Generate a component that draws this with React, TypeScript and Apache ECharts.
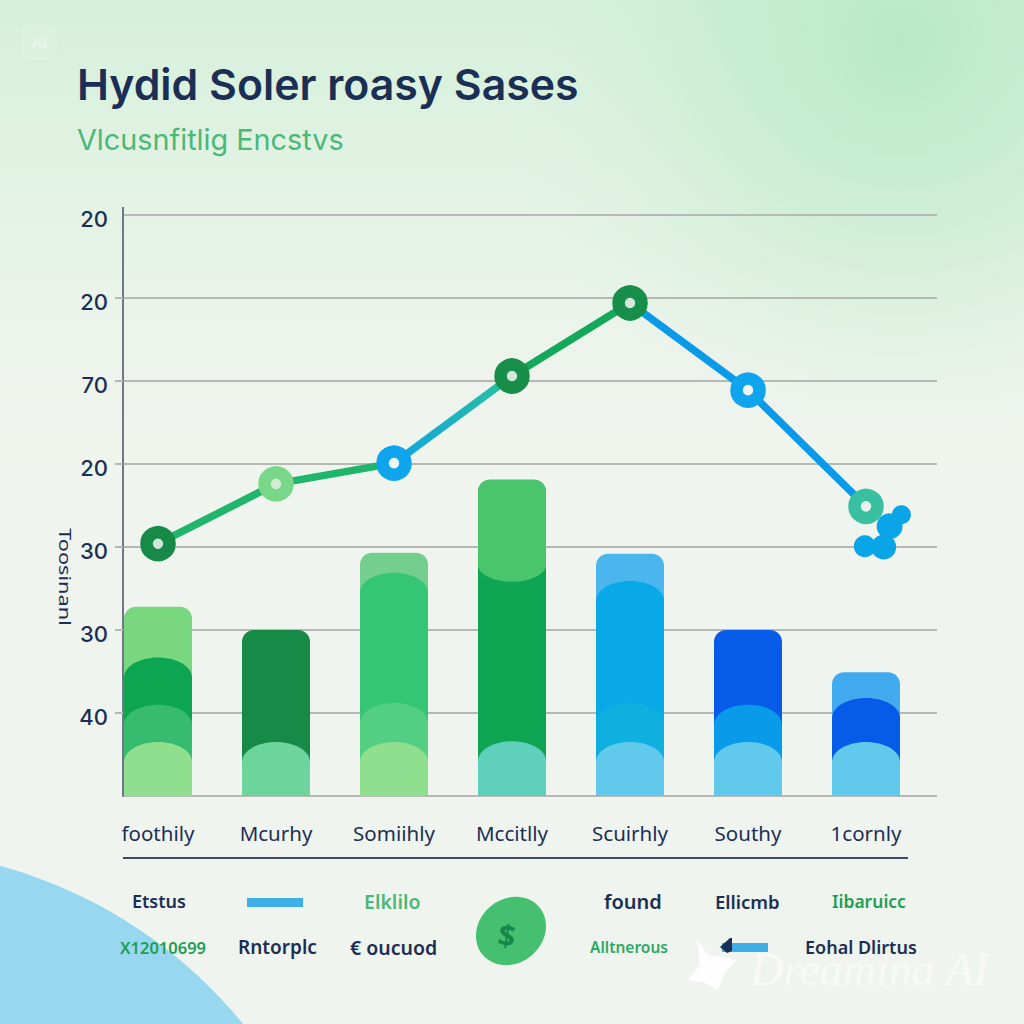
import React, { useEffect, useRef } from "react";
import * as echarts from "echarts";

const titleText = "Hydid Soler roasy Sases";
const subtitleText = "Vlcusnfitlig Encstvs";
const yAxisName = "Toosinanl";
const categories = ["foothily", "Mcurhy", "Somiihly", "Mccitlly", "Scuirhly", "Southy", "1cornly"];
const yTickLabels = ["", "40", "30", "30", "20", "70", "20", "20"];
const tickValues = [1, 2, 3, 4, 5, 6];
const legendLabels = ["Etstus", "Rntorplc", "€ oucuod", "found", "Ellicmb", "Eohal Dlirtus", "Elklilo", "Iibaruicc", "X12010699", "Alltnerous"];

const lineValues = [3.04, 3.76, 4.01, 5.06, 5.94, 4.89, 3.49];
const outerTops = [2.28, 2.0, 2.93, 3.81, 2.92, 2.0, 1.49];
const capBottoms = [null, null, null, 2.58, null, null, null];
const upperTops = [1.67, null, 2.69, null, 2.59, null, 1.18];
const middleTops = [1.1, null, 1.12, null, 1.12, 1.1, null];
const lowerTops = [0.65, 0.65, 0.65, 0.66, 0.65, 0.65, 0.65];
const clusterX = [6.3, 6.2, 6.15, 5.99];
const clusterY = [3.39, 3.25, 3.0, 3.01];

// styles
const markerColors = ["#178a47", "#79d789", "#0ea5ee", "#178f4b", "#178f4b", "#0ea5ee", "#39c0a0"];
const markerHoles = ["#cfe6d8", "#d4ead4", "#eef5f3", "#d4e8dc", "#d4e8dc", "#eef5f3", "#eaf2ee"];
const outerColors = ["#78d77f", "#168a47", "#74cf8f", "#0ea552", "#4bb5ee", "#065ce8", "#42aaee"];
const capColors = [null, null, null, "#4bc56c", null, null, null];
const upperColors = ["#0ea552", null, "#35c675", null, "#08a9e6", null, "#065ce8"];
const middleColors = ["#37bb6e", null, "#52cf82", null, "#0fb0e0", "#0a9aea", null];
const lowerColors = ["#90df8f", "#6dd59c", "#90df8f", "#5fd0bc", "#60c9ec", "#60c9ec", "#60c9ec"];
const clusterSizes = [19, 26, 25, 22];
const legendStyles = [
  { x: 132, y: 901, size: 18, fill: "#1b2f55" },
  { x: 238, y: 947, size: 19, fill: "#1b2f55" },
  { x: 350, y: 947, size: 19.5, fill: "#1b2f55" },
  { x: 604, y: 901, size: 20, fill: "#1b2f55" },
  { x: 715, y: 901, size: 18.5, fill: "#1b2f55" },
  { x: 805, y: 947, size: 18, fill: "#1b2f55" },
  { x: 364, y: 901, size: 19.5, fill: "#4cb878" },
  { x: 832, y: 901, size: 17.5, fill: "#1f9d55" },
  { x: 120, y: 947, size: 16.5, fill: "#1f9d55" },
  { x: 590, y: 947, size: 15.5, fill: "#2fa862" },
];

echarts.graphic.registerShape(
  "archBar",
  echarts.graphic.extendShape({
    shape: { x: 0, y: 0, w: 0, h: 0, rx: 0, ry: 0, bulge: 0 },
    buildPath(ctx: any, s: any) {
      const k = 0.5523;
      const { x, y, w, h, rx, ry, bulge } = s;
      const b = y + h;
      ctx.moveTo(x, b);
      ctx.lineTo(x, y + ry);
      ctx.bezierCurveTo(x, y + ry * (1 - k), x + rx * (1 - k), y, x + rx, y);
      ctx.lineTo(x + w - rx, y);
      ctx.bezierCurveTo(x + w - rx * (1 - k), y, x + w, y + ry * (1 - k), x + w, y + ry);
      ctx.lineTo(x + w, b);
      if (bulge > 0) {
        const m = x + w / 2;
        ctx.bezierCurveTo(x + w, b + bulge * k, m + (w / 2) * k, b + bulge, m, b + bulge);
        ctx.bezierCurveTo(m - (w / 2) * k, b + bulge, x, b + bulge * k, x, b);
      }
      ctx.closePath();
    },
  })
);

const BAR_W = 68;

function layerSeries(name: string, tops: any[], colors: any[], dome: boolean, z: number, bottoms?: any[]) {
  const data: any[] = [];
  tops.forEach((v, i) => {
    if (v !== null) data.push(bottoms ? [i, v, bottoms[i]] : [i, v, 0]);
  });
  return {
    type: "custom",
    name,
    xAxisIndex: 0,
    yAxisIndex: 0,
    z,
    silent: true,
    encode: { x: 0, y: 1 },
    data,
    renderItem(_p: any, api: any) {
      const i = api.value(0);
      const top = api.coord([i, api.value(1)]);
      const low = api.value(2);
      const bot = api.coord([i, low]);
      const ry = dome ? 20 : 12;
      const rx = dome ? BAR_W / 2 : 12;
      const bulge = low > 0 ? 17 : 0;
      return {
        type: "archBar",
        shape: {
          x: top[0] - BAR_W / 2,
          y: top[1],
          w: BAR_W,
          h: bot[1] - top[1] - bulge,
          rx,
          ry,
          bulge,
        },
        style: { fill: colors[i] },
      };
    },
  };
}

function buildOption() {
  return {
    animation: false,
    backgroundColor: "#f0f4ee",
    title: [
      {
        text: titleText,
        left: 77,
        top: 63,
        padding: 0,
        textStyle: { color: "#1b2f55", fontFamily: "Inter", fontWeight: 600, fontSize: 42.8 },
      },
      {
        text: subtitleText,
        left: 77,
        top: 125,
        padding: 0,
        textStyle: { color: "#4cb878", fontFamily: "Inter", fontWeight: 400, fontSize: 28.8 },
      },
    ],
    grid: [
      { left: 99, top: 215, width: 826, height: 581 },
      { left: 123, top: 215, width: 814, height: 581 },
    ],
    xAxis: [
      {
        type: "category",
        gridIndex: 0,
        data: categories,
        axisLine: { show: false },
        axisTick: { show: false },
        axisLabel: {
          color: "#1b2f55",
          fontFamily: "Noto Sans",
          fontSize: 20.5,
          margin: 26,
          interval: 0,
        },
      },
      {
        type: "value",
        gridIndex: 1,
        min: -0.2966,
        max: 6.6017,
        show: false,
      },
    ],
    yAxis: [
      { type: "value", gridIndex: 0, min: 0, max: 7, interval: 1, show: false },
      {
        type: "value",
        gridIndex: 1,
        position: "left",
        min: 0,
        max: 7,
        interval: 1,
        axisLine: { show: true, onZero: false, lineStyle: { color: "#6e7788", width: 2 } },
        axisTick: { show: false },
        splitLine: { show: true, lineStyle: { color: "#b5b8b5", width: 2 } },
        axisLabel: {
          margin: 15,
          formatter: (_v: number, idx: number) => (yTickLabels[idx] ? `{a|${yTickLabels[idx]}}` : ""),
          rich: {
            a: {
              color: "#1b2f55",
              fontFamily: "Inter",
              fontWeight: 500,
              fontSize: 22,
              padding: [8, 0, 0, 0],
            },
          },
        },
      },
      {
        type: "value",
        gridIndex: 1,
        position: "left",
        min: 0,
        max: 7,
        interval: 1,
        axisLine: { show: false, onZero: false },
        axisTick: { show: true, length: 8, customValues: tickValues, lineStyle: { color: "#b5b8b5", width: 2 } },
        splitLine: { show: false },
        axisLabel: { show: false },
      },
    ],
    series: [
      layerSeries("Outer", outerTops, outerColors, false, 3),
      layerSeries("Cap", outerTops.map((v, i) => (capBottoms[i] !== null ? v : null)), capColors, false, 4, capBottoms),
      layerSeries("Upper", upperTops, upperColors, true, 5),
      layerSeries("Middle", middleTops, middleColors, true, 6),
      layerSeries("Lower", lowerTops, lowerColors, true, 7),
      {
        type: "line",
        name: "Trend",
        xAxisIndex: 0,
        yAxisIndex: 0,
        z: 10,
        data: lineValues.map((v, i) => ({
          value: v,
          itemStyle: { color: markerHoles[i], borderColor: markerColors[i], borderWidth: 12.5 },
        })),
        symbol: "circle",
        symbolSize: 23,
        showSymbol: true,
        lineStyle: {
          width: 7.5,
          color: new echarts.graphic.LinearGradient(0, 0, 1, 0, [
            { offset: 0, color: "#1fb56b" },
            { offset: 0.335, color: "#1fb56b" },
            { offset: 0.335, color: "#12a5e0" },
            { offset: 0.495, color: "#28c0a0" },
            { offset: 0.5, color: "#14a85a" },
            { offset: 0.667, color: "#14a85a" },
            { offset: 0.667, color: "#0a9ae8" },
            { offset: 1, color: "#0a9ae8" },
          ]),
        },
      },
      {
        type: "scatter",
        name: "Cluster",
        xAxisIndex: 1,
        yAxisIndex: 1,
        z: 11,
        symbol: "circle",
        symbolSize: (_d: number[], p: any) => clusterSizes[p.dataIndex],
        itemStyle: { color: "#0aa5e6", opacity: 1 },
        data: clusterX.map((x, i) => [x, clusterY[i]]),
      },
    ],
    graphic: {
      elements: [
        { type: "rect", z: -30, shape: { x: 0, y: 0, width: 1024, height: 1024 },
          style: { fill: new echarts.graphic.LinearGradient(0, 0, 0, 1, [
            { offset: 0, color: "rgba(212,240,218,1)" },
            { offset: 0.25, color: "rgba(228,243,229,0.75)" },
            { offset: 0.5, color: "rgba(240,244,238,0)" },
            { offset: 1, color: "rgba(240,244,238,0)" },
          ]) } },
        { type: "rect", z: -29, shape: { x: 0, y: 0, width: 1024, height: 1024 },
          style: { fill: new echarts.graphic.RadialGradient(0.88, 0.04, 0.4, [
            { offset: 0, color: "rgba(184,233,196,1)" },
            { offset: 0.5, color: "rgba(197,236,205,0.6)" },
            { offset: 1, color: "rgba(220,241,224,0)" },
          ]) } },
        { type: "circle", z: -28, shape: { cx: -125.7, cy: 1325, r: 476 }, style: { fill: "#97d8f0" } },
        { type: "rect", z: -20, shape: { x: 23, y: 26, width: 33, height: 33, r: 7 },
          style: { fill: "rgba(255,255,255,0.08)", stroke: "rgba(255,255,255,0.3)", lineWidth: 1 } },
        { type: "text", z: -19, x: 39.5, y: 42,
          style: { text: "AI", fill: "rgba(255,255,255,0.4)", font: "600 15px 'Noto Sans'", align: "center", verticalAlign: "middle" } },
        { type: "line", z: 20, shape: { x1: 123, y1: 207, x2: 123, y2: 216 }, style: { stroke: "#6e7788", lineWidth: 2 } },
        { type: "line", z: 20, shape: { x1: 123, y1: 858, x2: 908, y2: 858 }, style: { stroke: "#3d4a66", lineWidth: 2 } },
        { type: "text", z: 50, x: 66, y: 577, rotation: -Math.PI / 2, scaleX: 1.28,
          style: { text: yAxisName, fill: "#1b2f55", font: "17px 'Noto Sans'", align: "center", verticalAlign: "middle" } },
        { type: "rect", z: 50, shape: { x: 247, y: 898, width: 56, height: 9 }, style: { fill: "#3fafe8" } },
        { type: "ellipse", z: 50, x: 511, y: 931, rotation: 0.7, shape: { cx: 0, cy: 0, rx: 37, ry: 32 }, style: { fill: "#45c070" } },
        { type: "text", z: 51, x: 507, y: 935, rotation: -0.15, style: { text: "$", fill: "#16874a", font: "700 30px 'Noto Sans'", align: "center", verticalAlign: "middle" } },
        { type: "rect", z: 50, shape: { x: 722, y: 943, width: 46, height: 9 }, style: { fill: "#3fafe8" } },
        { type: "polygon", z: 51, shape: { points: [[720, 947], [730, 938], [732, 938], [732, 951], [727, 953]] }, style: { fill: "#1b2f55" } },
        ...legendLabels.map((text, i) => ({
          type: "text",
          z: 50,
          x: legendStyles[i].x,
          y: legendStyles[i].y,
          style: {
            text,
            fill: legendStyles[i].fill,
            font: `600 ${legendStyles[i].size}px 'Noto Sans'`,
            verticalAlign: "middle",
          },
        })),
        { type: "polygon", z: 60, shape: { points: [[697, 939], [708, 955], [737, 960], [725, 972], [718, 990], [705, 983], [688, 980], [700, 965]] },
          style: { fill: "rgba(255,255,255,0.85)" } },
        { type: "text", z: 60, x: 750, y: 969,
          style: { text: "Dreamina AI", fill: "rgba(255,255,255,0.65)", font: "italic 46px 'Liberation Serif'", verticalAlign: "middle" } },
      ],
    },
  };
}

export default function App() {
  const ref = useRef<HTMLDivElement>(null);
  useEffect(() => {
    document.body.style.margin = "0";
    const chart = echarts.init(ref.current!, undefined, { renderer: "svg" });
    chart.setOption(buildOption() as any);
    return () => chart.dispose();
  }, []);
  return <div ref={ref} style={{ position: "absolute", left: 0, top: 0, width: 1024, height: 1024 }} />;
}
